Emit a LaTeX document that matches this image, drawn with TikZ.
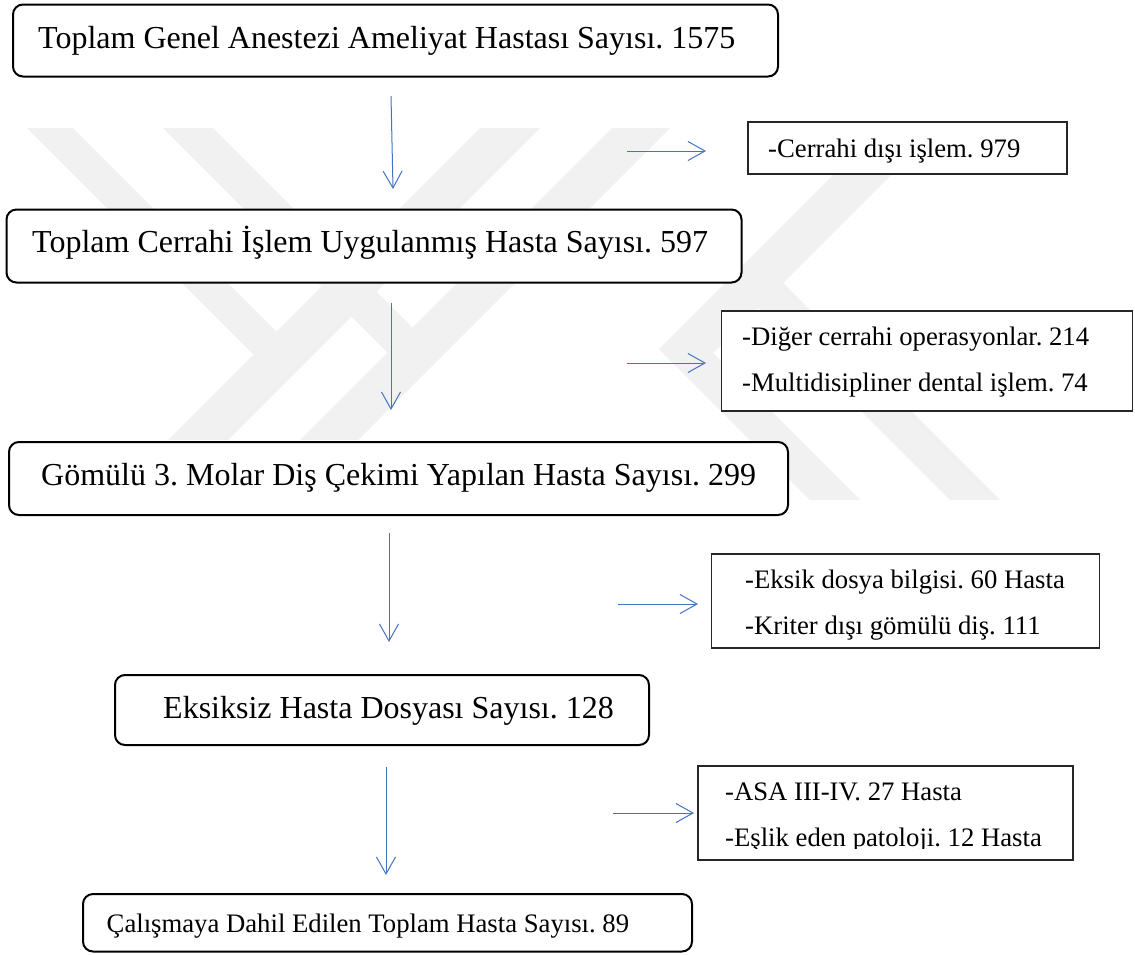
\documentclass[tikz,border=0pt]{standalone}
\usepackage{fontspec}
\setmainfont{Liberation Serif}
\usetikzlibrary{arrows.meta}
\definecolor{arrowblue}{HTML}{4472C4}
\definecolor{wmgray}{HTML}{F1F1F1}
\definecolor{sideline}{HTML}{262626}
\newcommand\bigtxt{\fontsize{32}{38}\selectfont}
\newcommand\smalltxt{\fontsize{26.7}{32}\selectfont}
\frenchspacing
\begin{document}
\begin{tikzpicture}[x=1pt,y=-1pt,
  mainbox/.style={draw=black, line width=2pt, rounded corners=10pt, fill=white, inner sep=0pt, outer sep=0pt, anchor=north west},
  sidebox/.style={draw=sideline, line width=1.2pt, fill=white, inner sep=0pt, outer sep=0pt, anchor=north west},
  bigtext/.style={anchor=base west, inner sep=0pt, font=\bigtxt},
  smalltext/.style={anchor=base west, inner sep=0pt, font=\smalltxt},
  flow/.style={draw=arrowblue, line width=1pt, -{Straight Barb[length=17pt,width=19pt,line width=1pt]}},
  wm/.style={fill=wmgray, draw=none}]
\useasboundingbox (0,0) rectangle (1135,954);
\fill[white] (0,0) rectangle (1135,954);

% faint watermark
\fill[wm] (27,128) -- (73,128) -- (276.5,331.5) -- (253.5,354.5) -- cycle;
\fill[wm] (163,128) -- (213,128) -- (412.5,327.5) -- (387.5,352.5) -- cycle;
\fill[wm] (480,128) -- (540,128) -- (228,440) -- (168,440) -- cycle;
\fill[wm] (612,128) -- (670,128) -- (358,440) -- (300,440) -- cycle;
\fill[wm] (880,128) -- (938,128) -- (713,353) -- (860,500) -- (810,500) -- (659,349) -- cycle;
\fill[wm] (783,283) -- (1000,500) -- (950,500) -- (758,308) -- cycle;

% arrow end points
\coordinate (a1s) at (391,96);  \coordinate (a1e) at (393,189);
\coordinate (a2s) at (391,303); \coordinate (a2e) at (391,410);
\coordinate (a3s) at (389,533); \coordinate (a3e) at (389,642);
\coordinate (a4s) at (386,767); \coordinate (a4e) at (386,875);
\coordinate (h1s) at (627,151); \coordinate (h1e) at (706,151);
\coordinate (h2s) at (627,363); \coordinate (h2e) at (706,363);
\coordinate (h3s) at (618,604); \coordinate (h3e) at (698,604);
\coordinate (h4s) at (613,813); \coordinate (h4e) at (694,813);

\draw[flow] (a1s) -- (a1e);
\draw[flow] (a2s) -- (a2e);
\draw[flow] (a3s) -- (a3e);
\draw[flow] (a4s) -- (a4e);
\draw[flow] (h1s) -- (h1e);
\draw[flow] (h2s) -- (h2e);
\draw[flow] (h3s) -- (h3e);
\draw[flow] (h4s) -- (h4e);

% main boxes
\node[mainbox, minimum width=765pt, minimum height=72pt] (n1) at (13,4.5) {};
\node[bigtext] (t1) at (38,48) {Toplam Genel Anestezi Ameliyat Hastası Sayısı. 1575};
\node[mainbox, minimum width=735pt, minimum height=73pt] (n2) at (6.5,209.5) {};
\node[bigtext] (t2) at (32,252) {Toplam Cerrahi İşlem Uygulanmış Hasta Sayısı. 597};
\node[mainbox, minimum width=779pt, minimum height=73pt] (n3) at (9,442) {};
\node[bigtext] (t3) at (41,485) {Gömülü 3. Molar Diş Çekimi Yapılan Hasta Sayısı. 299};
\node[mainbox, minimum width=534pt, minimum height=70pt] (n4) at (115,675) {};
\node[bigtext] (t4) at (163,718) {Eksiksiz Hasta Dosyası Sayısı. 128};
\node[mainbox, minimum width=609pt, minimum height=57.5pt] (n5) at (83,894) {};
\node[smalltext] (t5) at (106.5,932) {Çalışmaya Dahil Edilen Toplam Hasta Sayısı. 89};

% side boxes
\node[sidebox, minimum width=319pt, minimum height=52pt] (s1) at (748,122) {};
\node[smalltext] (s1a) at (768,157) {-Cerrahi dışı işlem. 979};
\node[sidebox, minimum width=411pt, minimum height=100pt] (s2) at (721.5,311) {};
\node[smalltext] (s2a) at (742,345.5) {-Diğer cerrahi operasyonlar. 214};
\node[smalltext] (s2b) at (742,391.5) {-Multidisipliner dental işlem. 74};
\node[sidebox, minimum width=388pt, minimum height=94pt] (s3) at (711.5,554) {};
\node[smalltext] (s3a) at (745,588) {-Eksik dosya bilgisi. 60 Hasta};
\node[smalltext] (s3b) at (745,634) {-Kriter dışı gömülü diş. 111};
\node[sidebox, minimum width=375pt, minimum height=94pt] (s4) at (698,766) {};
\node[smalltext] (s4a) at (725,800) {-ASA III-IV. 27 Hasta};
\begin{scope}
\clip (698,766) rectangle (1073,848.5);
\node[smalltext] (s4b) at (725,846) {-Eşlik eden patoloji. 12 Hasta};
\end{scope}
\end{tikzpicture}
\end{document}
